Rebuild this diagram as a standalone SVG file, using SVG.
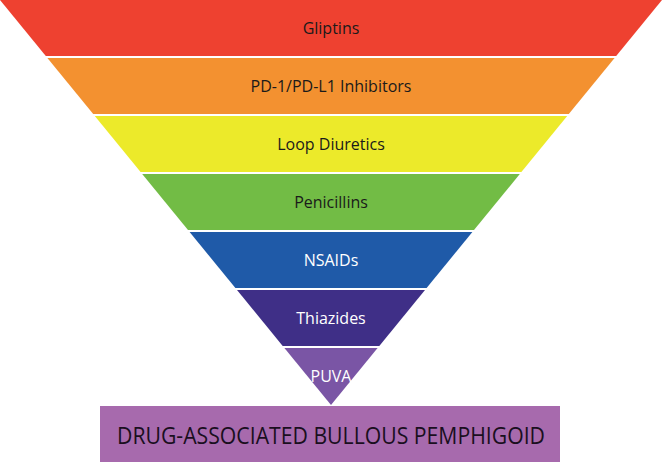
<svg xmlns="http://www.w3.org/2000/svg" width="662" height="462" viewBox="0 0 662 462">
<style>
.l{font-family:"Open Sans","Liberation Sans",sans-serif;font-size:16px;text-anchor:middle}
.d{fill:#1a1a1a}.w{fill:#ffffff}
</style>
<rect width="662" height="462" fill="#fff"/>
<g id="gliptins"><polygon points="0,0 662,0 616.2,56 45.8,56" fill="#ee4130"/><text class="l d" x="331" y="34">Gliptins</text></g>
<g id="pd1"><polygon points="47.4,58 614.6,58 568.8,114 93.2,114" fill="#f39130"/><text class="l d" x="331" y="92">PD-1/PD-L1 Inhibitors</text></g>
<g id="loop"><polygon points="94.8,116 567.2,116 521.4,172 140.6,172" fill="#ecea2a"/><text class="l d" x="331" y="150">Loop Diuretics</text></g>
<g id="penicillins"><polygon points="142.2,174 519.8,174 474,230 188,230" fill="#72bc45"/><text class="l d" x="331" y="208">Penicillins</text></g>
<g id="nsaids"><polygon points="189.6,232 472.4,232 426.6,288 235.4,288" fill="#1f5aa8"/><text class="l w" x="331" y="266">NSAIDs</text></g>
<g id="thiazides"><polygon points="237,290 425,290 379.3,346 282.7,346" fill="#3f2f87"/><text class="l w" x="331" y="324">Thiazides</text></g>
<g id="puva"><polygon points="284.4,348 377.6,348 331,405" fill="#7a55a5"/><text class="l w" x="331" y="382">PUVA</text></g>
<g id="bp"><rect x="100" y="406" width="460" height="56" fill="#a76aad"/><text x="331" y="444" font-family="'Open Sans','Liberation Sans',sans-serif" font-size="23" text-anchor="middle" fill="#1a0f1e" textLength="428" lengthAdjust="spacingAndGlyphs">DRUG-ASSOCIATED BULLOUS PEMPHIGOID</text></g>
<g id="connectors"/>
</svg>
